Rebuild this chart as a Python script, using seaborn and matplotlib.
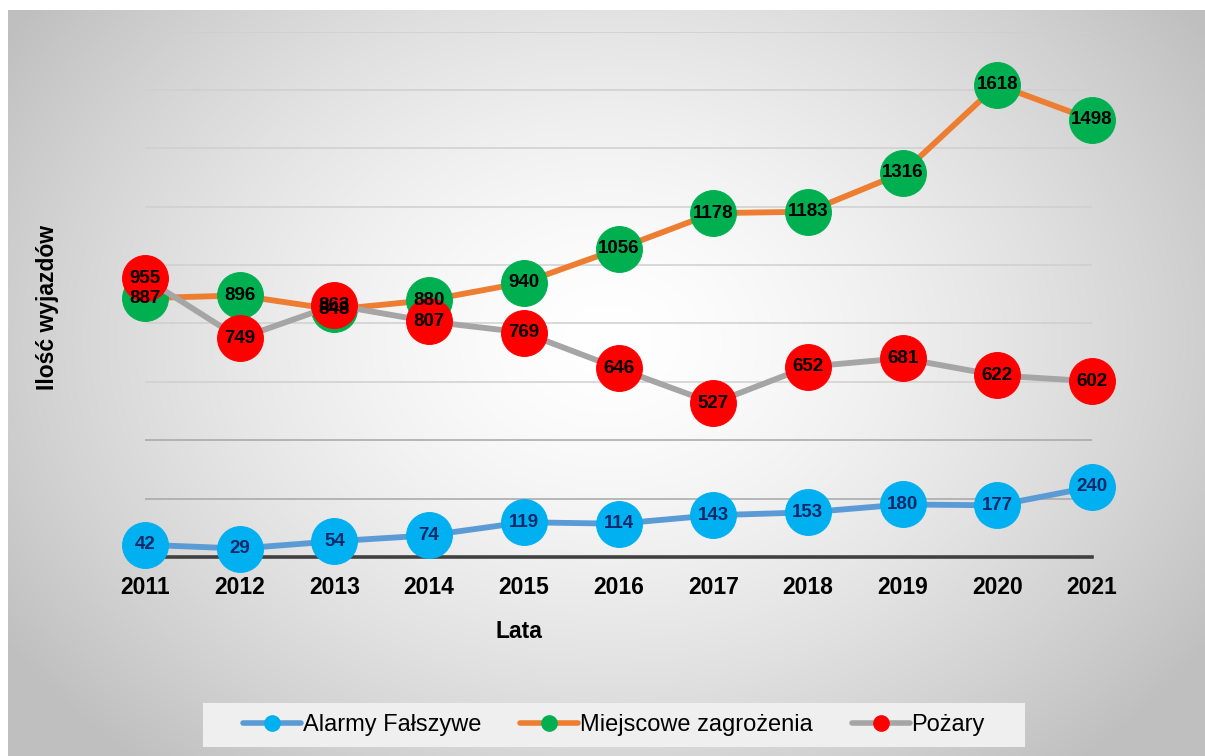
import numpy as np
import pandas as pd
import matplotlib
matplotlib.use("Agg")
import matplotlib.pyplot as plt
import seaborn as sns
from matplotlib.lines import Line2D
from matplotlib.patches import Rectangle

years = ["2011", "2012", "2013", "2014", "2015", "2016", "2017", "2018", "2019", "2020", "2021"]
alarmy = [42, 29, 54, 74, 119, 114, 143, 153, 180, 177, 240]
miejscowe = [887, 896, 848, 880, 940, 1056, 1178, 1183, 1316, 1618, 1498]
pozary = [955, 749, 863, 807, 769, 646, 527, 652, 681, 622, 602]
series_names = ["Alarmy Fałszywe", "Miejscowe zagrożenia", "Pożary"]

sns.set_style("white")
plt.rcParams['font.family'] = ['Liberation Sans', 'DejaVu Sans']
plt.rcParams['text.color'] = 'black'
plt.rcParams['xtick.color'] = 'black'

W, H = 1205, 756
fig = plt.figure(figsize=(W / 100, H / 100), dpi=100)

# radial gradient background (white centre, gray edges)
bg = fig.add_axes([8 / W, 0, 1 - 8 / W, 1 - 10 / H])
yy, xx = np.mgrid[0:746, 0:1197]
r = np.sqrt(((xx - 600) / 720.0) ** 2 + ((yy - 330) / 560.0) ** 2)
g = 255 - 64 * np.clip(r, 0, 1) ** 1.5
img = np.dstack([g, g, g]) / 255.0
bg.imshow(img, aspect='auto', interpolation='bilinear')
bg.set_axis_off()

ax = fig.add_axes([145 / W, 199 / H, 947 / W, 525.4 / H])
ax.patch.set_alpha(0)
ax.set_xlim(0, 10)
ax.set_ylim(0, 1800)

# gridlines
for v in range(200, 1801, 200):
    c = '#a6a6a6' if v <= 400 else '#cfcfcf'
    ax.axhline(v, color=c, lw=1.1, zorder=0)

x = np.arange(len(years))
df = pd.DataFrame({"x": x, series_names[0]: alarmy,
                   series_names[1]: miejscowe, series_names[2]: pozary})

styles = [("#5B9BD5", "#00B0F0", "#0C2A6B"),
          ("#ED7D31", "#00B050", "#000000"),
          ("#A5A5A5", "#FF0000", "#000000")]

for i, (name, (lc, mc, tc)) in enumerate(zip(series_names, styles)):
    sns.lineplot(data=df, x="x", y=name, ax=ax, color=lc, lw=4.2,
                 marker='o', markersize=33, markerfacecolor=mc,
                 markeredgecolor=mc, sort=False, zorder=3 + i, clip_on=False)
    for xi, v in zip(x, df[name]):
        ax.text(xi, v, str(v), ha='center', va='center', fontsize=13.5,
                fontweight='bold', color=tc, zorder=10, clip_on=False)

sns.despine(ax=ax, left=True, top=True, right=True)
ax.spines['bottom'].set_color('#404040')
ax.spines['bottom'].set_linewidth(2.6)
ax.spines['bottom'].set_zorder(2)
ax.set_xticks(x)
ax.set_xticklabels(years, fontsize=16.5, fontweight='bold', color='black')
ax.tick_params(axis='x', length=0, pad=14)
ax.set_yticks([])
ax.set_xlabel("")
ax.set_ylabel("")

fig.text(48 / W, 1 - 307 / H, "Ilość wyjazdów", rotation=90, ha='center',
         va='center', fontsize=16.5, fontweight='bold', color='black')
fig.text(519 / W, 1 - 631 / H, "Lata", ha='center', va='center',
         fontsize=16.5, fontweight='bold', color='black')

# legend box
fig.patches.append(Rectangle((203 / W, 1 - 747 / H), 822 / W, 44 / H,
                             transform=fig.transFigure, facecolor='#efefef',
                             edgecolor='none', zorder=1))
handles = [Line2D([0], [0], color=lc, lw=4, marker='o', markersize=11,
                  markerfacecolor=mc, markeredgecolor=mc)
           for (lc, mc, tc) in styles]
leg = fig.legend(handles, series_names, loc='center',
                 bbox_to_anchor=(614 / W, 1 - 725 / H), ncol=3, fontsize=17,
                 frameon=False, handlelength=2.45,
                 handletextpad=0.08, columnspacing=1.65, borderpad=0.35)

fig.savefig("out.png", dpi=100)
